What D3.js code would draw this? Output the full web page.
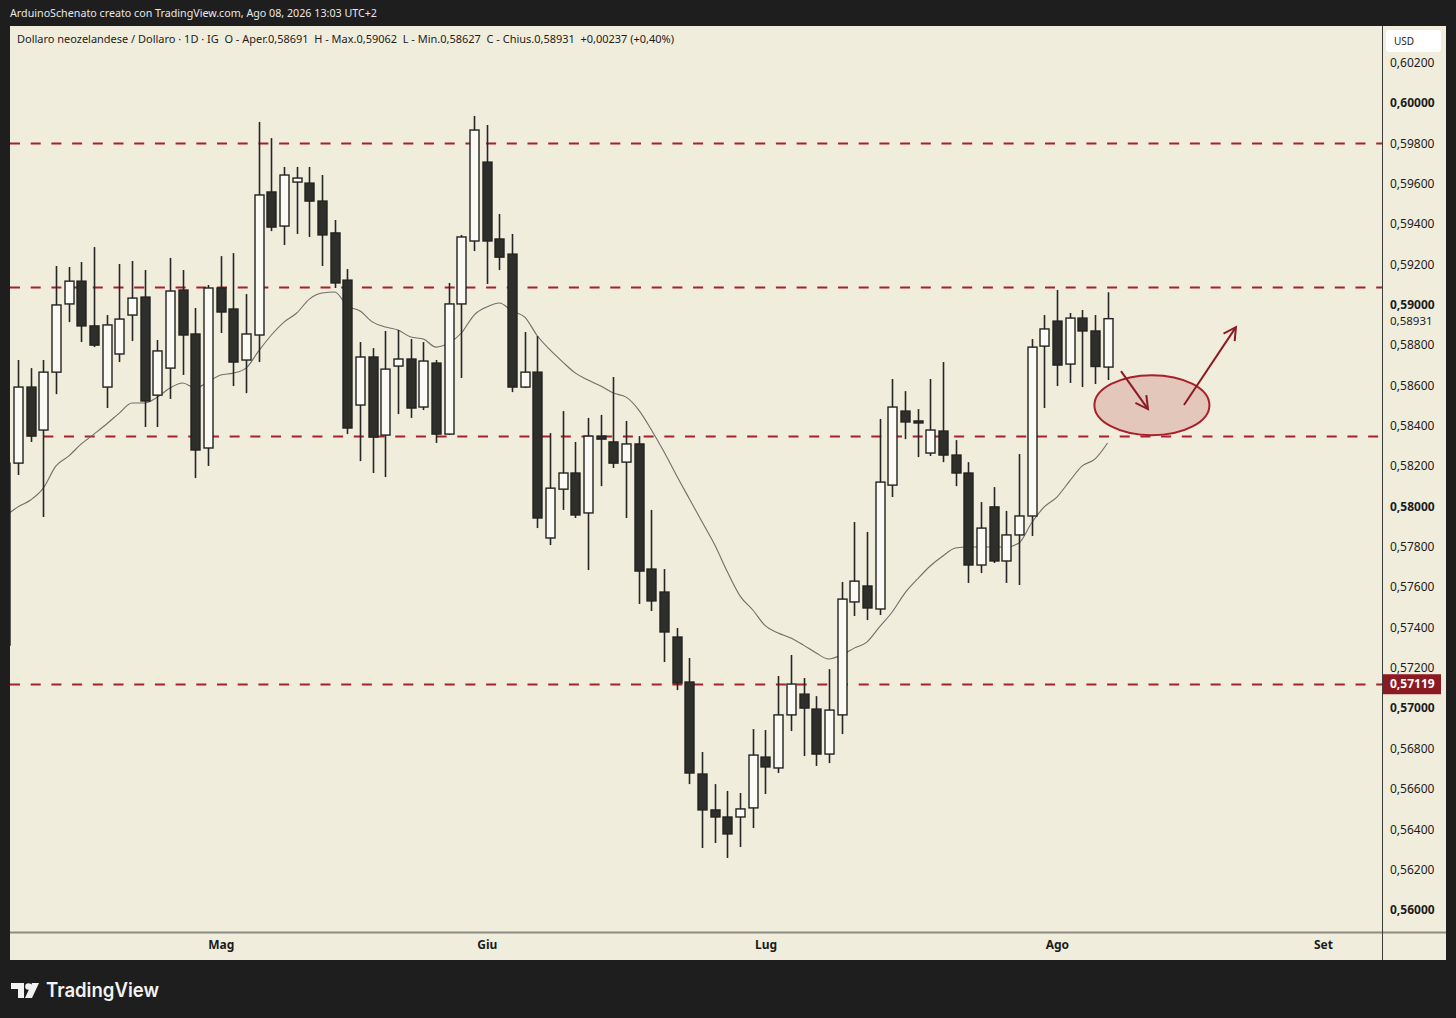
<!DOCTYPE html>
<html>
<head>
<meta charset="utf-8">
<script src="https://cdn.jsdelivr.net/npm/d3@7/dist/d3.min.js"></script>
<style>
  html, body { margin: 0; padding: 0; background: #1e1e1e; }
  svg { display: block; }
</style>
</head>
<body>
<div id="chart"></div>
<script>
// NZD/USD daily candles, first one (index -1) is cut by the left edge
var firstIdx = -1;
var opens  = [0.57313,0.58215,0.58592,0.58379,0.58666,0.59004,0.59117,0.58895,0.58592,0.58756,0.58949,
              0.59038,0.58552,0.58686,0.59073,0.58855,0.58290,0.59083,0.58979,0.58726,0.58850,
              0.59559,0.59390,0.59608,0.59603,0.59514,0.59356,0.59122,0.58503,0.58741,0.58354,
              0.58696,0.58731,0.58493,0.58711,0.58359,0.59004,0.59316,0.59707,0.59326,0.59251,
              0.58592,0.58666,0.57844,0.58086,0.58166,0.57968,0.58349,0.58320,0.58220,0.58310,
              0.57690,0.57576,0.57353,0.57130,0.56674,0.56496,0.56461,0.56461,0.56506,0.56758,
              0.56704,0.56967,0.57070,0.56996,0.56773,0.56967,0.57527,0.57606,0.57492,0.58106,
              0.58473,0.58424,0.58265,0.58374,0.58255,0.58166,0.57710,0.57998,0.57730,0.57859,
              0.57953,0.58795,0.58919,0.58706,0.58934,0.58870,0.58691];
var highs  = [0.58230,0.58726,0.58686,0.58726,0.59192,0.59187,0.59212,0.59286,0.58949,0.59202,0.59217,
              0.59172,0.58825,0.59232,0.59172,0.58984,0.59098,0.59241,0.59256,0.59053,0.59906,
              0.59826,0.59683,0.59683,0.59683,0.59643,0.59420,0.59177,0.58815,0.58785,0.58870,
              0.58875,0.58830,0.58815,0.58726,0.59108,0.59346,0.59936,0.59891,0.59450,0.59351,
              0.58865,0.58845,0.58364,0.58473,0.58320,0.58439,0.58454,0.58642,0.58424,0.58349,
              0.57983,0.57690,0.57398,0.57249,0.56783,0.56624,0.56590,0.56580,0.56897,0.56892,
              0.57160,0.57264,0.57150,0.57060,0.57194,0.57626,0.57923,0.57874,0.58434,0.58632,
              0.58572,0.58483,0.58632,0.58716,0.58329,0.58220,0.58022,0.58096,0.57978,0.58260,
              0.58830,0.58949,0.59073,0.58959,0.58974,0.58949,0.59062];
var lows   = [0.57289,0.58156,0.58320,0.57948,0.58557,0.58914,0.58815,0.58790,0.58488,0.58716,0.58820,
              0.58394,0.58394,0.58533,0.58652,0.58141,0.58201,0.58860,0.58597,0.58562,0.58716,
              0.59365,0.59296,0.59351,0.59336,0.59192,0.59083,0.58359,0.58225,0.58166,0.58146,
              0.58458,0.58439,0.58478,0.58315,0.58354,0.58637,0.59266,0.59103,0.59172,0.58567,
              0.58587,0.57893,0.57809,0.57983,0.57943,0.57685,0.58101,0.58191,0.57943,0.57517,
              0.57482,0.57229,0.57090,0.56624,0.56307,0.56332,0.56258,0.56312,0.56406,0.56575,
              0.56679,0.56887,0.56763,0.56714,0.56728,0.56872,0.57457,0.57437,0.57462,0.58047,
              0.58334,0.58245,0.58250,0.58220,0.58101,0.57621,0.57670,0.57720,0.57621,0.57611,
              0.57854,0.58488,0.58597,0.58612,0.58592,0.58607,0.58627];
var closes = [0.58215,0.58592,0.58349,0.58666,0.58999,0.59117,0.58895,0.58800,0.58900,0.58929,0.59033,
              0.58523,0.58771,0.59068,0.58850,0.58280,0.59083,0.58964,0.58716,0.58855,0.59544,
              0.59385,0.59643,0.59628,0.59514,0.59346,0.59108,0.58389,0.58741,0.58344,0.58681,
              0.58731,0.58488,0.58721,0.58359,0.59004,0.59336,0.59866,0.59316,0.59236,0.58592,
              0.58666,0.57943,0.58091,0.58166,0.57958,0.58349,0.58334,0.58215,0.58310,0.57680,
              0.57532,0.57378,0.57125,0.56679,0.56496,0.56461,0.56377,0.56501,0.56768,0.56709,
              0.56967,0.57120,0.57001,0.56773,0.56991,0.57541,0.57630,0.57497,0.58121,0.58493,
              0.58419,0.58414,0.58379,0.58255,0.58166,0.57710,0.57893,0.57730,0.57859,0.57953,
              0.58790,0.58880,0.58701,0.58934,0.58870,0.58694,0.58931];
// moving average as drawn on the chart
var ma20   = [0.57953,0.57998,0.58032,0.58091,0.58201,0.58250,0.58310,0.58359,0.58409,0.58463,0.58513,
              0.58513,0.58542,0.58587,0.58612,0.58587,0.58617,0.58652,0.58661,0.58686,0.58771,
              0.58850,0.58914,0.58959,0.59028,0.59058,0.59063,0.58994,0.58969,0.58914,0.58890,
              0.58875,0.58840,0.58830,0.58790,0.58810,0.58860,0.58949,0.58989,0.59009,0.58969,
              0.58939,0.58845,0.58776,0.58716,0.58661,0.58627,0.58597,0.58562,0.58542,0.58478,
              0.58379,0.58270,0.58151,0.58037,0.57923,0.57809,0.57675,0.57556,0.57487,0.57408,
              0.57373,0.57348,0.57313,0.57274,0.57244,0.57264,0.57298,0.57328,0.57403,0.57477,
              0.57571,0.57641,0.57705,0.57755,0.57794,0.57799,0.57799,0.57799,0.57799,0.57819,
              0.57918,0.57998,0.58047,0.58126,0.58201,0.58235,0.58315];

var monthLabels = ["Mag", "Giu", "Lug", "Ago", "Set"];
var monthIdx    = [16, 37, 59, 82, 103];

var levelPrices = [0.5980, 0.5909, 0.5835, 0.57119];
var levelStart  = [-1, -1, 2, -1];

var lastClose = 0.58931;
var levelTag  = 0.57119;

var W = 1456, H = 1018;
var plot = {left: 10, right: 1382, top: 26, bottom: 932};
var axisRight = 1446, timeBottom = 960;
var cream = "#f0eddd";
var font = "'Noto Sans', 'Open Sans', sans-serif";

var svg = d3.select("#chart").append("svg")
    .attr("width", W)
    .attr("height", H);

svg.append("rect").attr("width", W).attr("height", H).attr("fill", "#1e1e1e");
svg.append("rect")
    .attr("x", plot.left).attr("y", plot.top)
    .attr("width", axisRight - plot.left).attr("height", timeBottom - plot.top)
    .attr("fill", cream);

var x = d3.scaleLinear().domain([-0.63, 107.66]).range([plot.left, plot.right]);
var y = d3.scaleLinear().domain([0.56, 0.60]).range([910, 103]);

svg.append("clipPath").attr("id", "clip")
  .append("rect")
    .attr("x", plot.left).attr("y", plot.top)
    .attr("width", plot.right - plot.left).attr("height", plot.bottom - plot.top);

var g = svg.append("g").attr("clip-path", "url(#clip)");

// horizontal levels
g.selectAll(".level")
    .data(levelPrices)
    .enter()
    .append("line")
    .attr("x1", function(d, i) { return levelStart[i] < 0 ? plot.left : x(levelStart[i]); })
    .attr("x2", plot.right)
    .attr("y1", function(d) { return Math.round(y(d)) + 0.5; })
    .attr("y2", function(d) { return Math.round(y(d)) + 0.5; })
    .attr("stroke", "#a8202c")
    .attr("stroke-width", 2)
    .attr("stroke-dasharray", "10,10.7");

// moving average
var maLine = d3.line()
    .x(function(d, i) { return x(i + firstIdx); })
    .y(function(d) { return y(d); })
    .curve(d3.curveMonotoneX);

g.append("path")
    .datum(ma20)
    .attr("d", maLine)
    .attr("fill", "none")
    .attr("stroke", "#6f6f68")
    .attr("stroke-width", 1.1);

// candles
var bars = d3.range(opens.length).map(function(i) {
    return {i: i + firstIdx, o: opens[i], h: highs[i], l: lows[i], c: closes[i]};
});
var bodyW = 9;

var cg = g.selectAll(".candle")
    .data(bars)
    .enter()
    .append("g");

cg.append("line")
    .attr("x1", function(d) { return Math.round(x(d.i)) + 0.5; })
    .attr("x2", function(d) { return Math.round(x(d.i)) + 0.5; })
    .attr("y1", function(d) { return y(d.h); })
    .attr("y2", function(d) { return y(d.l); })
    .attr("stroke", "#262624")
    .attr("stroke-width", 1.6);

cg.append("rect")
    .attr("x", function(d) { return Math.round(x(d.i)) + 0.5 - bodyW / 2; })
    .attr("y", function(d) { return y(Math.max(d.o, d.c)); })
    .attr("width", bodyW)
    .attr("height", function(d) { return Math.max(1.5, Math.abs(y(d.o) - y(d.c))); })
    .attr("fill", function(d) { return d.c >= d.o ? "#fbfaf4" : "#2e2e2b"; })
    .attr("stroke", "#222220")
    .attr("stroke-width", 1.4);

// drawing: zone + arrows
var zone = {i: 89.5, p: 0.58502, ri: 4.54, rp: 0.00149};
g.append("ellipse")
    .attr("cx", x(zone.i))
    .attr("cy", y(zone.p))
    .attr("rx", x(zone.i + zone.ri) - x(zone.i))
    .attr("ry", y(zone.p - zone.rp) - y(zone.p))
    .attr("fill", "rgba(170,50,50,0.2)")
    .attr("stroke", "#a8202c")
    .attr("stroke-width", 2);

var arrows = [
    {i1: 87.06, p1: 0.58671, i2: 89.19, p2: 0.58483},
    {i1: 92.03, p1: 0.58503, i2: 96.13, p2: 0.58889}
];
arrows.forEach(function(a) {
    var x1 = x(a.i1), y1 = y(a.p1), x2 = x(a.i2), y2 = y(a.p2);
    var ang = Math.atan2(y2 - y1, x2 - x1), hl = 14, spread = 0.5;
    g.append("line")
        .attr("x1", x1).attr("y1", y1).attr("x2", x2).attr("y2", y2)
        .attr("stroke", "#8c1a24").attr("stroke-width", 2);
    g.append("path")
        .attr("d", "M" + (x2 - hl * Math.cos(ang - spread)) + "," + (y2 - hl * Math.sin(ang - spread)) +
                   "L" + x2 + "," + y2 +
                   "L" + (x2 - hl * Math.cos(ang + spread)) + "," + (y2 - hl * Math.sin(ang + spread)))
        .attr("fill", "none")
        .attr("stroke", "#8c1a24")
        .attr("stroke-width", 2);
});

// price axis
var fmt = function(v) { return d3.format(".5f")(v).replace(".", ","); };
var ticks = d3.range(0.560, 0.6021, 0.002);

svg.selectAll(".ptick")
    .data(ticks)
    .enter()
    .append("text")
    .attr("x", 1390)
    .attr("y", function(d) { return y(d); })
    .attr("dy", "0.35em")
    .attr("font-family", font)
    .attr("font-size", "12px")
    .attr("font-weight", function(d) { return Math.abs(Math.round(d * 100) - d * 100) < 1e-6 ? 700 : 400; })
    .attr("fill", "#1c1c1c")
    .text(fmt);

// last price label, nudged a little below its level as on the original
svg.append("text")
    .attr("x", 1390).attr("y", y(lastClose) + 2.5).attr("dy", "0.35em")
    .attr("font-family", font).attr("font-size", "11.5px").attr("fill", "#1c1c1c")
    .text(fmt(lastClose));

svg.append("rect")
    .attr("x", 1383).attr("y", y(levelTag) - 10)
    .attr("width", 58).attr("height", 20)
    .attr("fill", "#8c1a22");
svg.append("text")
    .attr("x", 1390).attr("y", y(levelTag)).attr("dy", "0.35em")
    .attr("font-family", font).attr("font-size", "12px").attr("font-weight", 700)
    .attr("fill", "#ffffff")
    .text(fmt(levelTag));

svg.append("rect")
    .attr("x", 1386).attr("y", 30).attr("width", 55).attr("height", 22).attr("rx", 3)
    .attr("fill", "#ffffff");
svg.append("text")
    .attr("x", 1394).attr("y", 41).attr("dy", "0.35em")
    .attr("font-family", font).attr("font-size", "10px").attr("fill", "#1c1c1c")
    .text("USD");

// time axis
var xAxis = d3.axisBottom(x)
    .tickValues(monthIdx)
    .tickSize(0)
    .tickPadding(8)
    .tickFormat(function(d, i) { return monthLabels[i]; });

var xa = svg.append("g")
    .attr("transform", "translate(0," + plot.bottom + ")")
    .call(xAxis);
xa.select(".domain").remove();
xa.selectAll("text")
    .attr("font-family", font)
    .attr("font-size", "12px")
    .attr("font-weight", 700)
    .attr("fill", "#1c1c1c");

// separators
svg.append("line")
    .attr("x1", plot.left).attr("x2", axisRight)
    .attr("y1", plot.bottom + 0.5).attr("y2", plot.bottom + 0.5)
    .attr("stroke", "#8d8c82").attr("stroke-width", 2);
svg.append("line")
    .attr("x1", plot.right + 0.5).attr("x2", plot.right + 0.5)
    .attr("y1", plot.top).attr("y2", timeBottom)
    .attr("stroke", "#3a3a36").attr("stroke-width", 1);

// header and legend
svg.append("text")
    .attr("x", 10).attr("y", 17)
    .attr("font-family", font).attr("font-size", "11.5px").attr("fill", "#e8e8e8")
    .attr("textLength", 367).attr("lengthAdjust", "spacingAndGlyphs")
    .text("ArduinoSchenato creato con TradingView.com, Ago 08, 2026 13:03 UTC+2");

svg.append("text")
    .attr("x", 17).attr("y", 43)
    .attr("xml:space", "preserve")
    .attr("font-family", font).attr("font-size", "11px").attr("fill", "#1c1c1c")
    .attr("textLength", 657).attr("lengthAdjust", "spacingAndGlyphs")
    .text("Dollaro neozelandese / Dollaro \u00b7 1D \u00b7 IG  O - Aper.0,58691  H - Max.0,59062  L - Min.0,58627  C - Chius.0,58931  +0,00237 (+0,40%)");

// footer logo
var logo = svg.append("g").attr("fill", "#f2f2f2");
logo.append("path").attr("d", "M11,983 H24 V998 H18 V989 H11 Z");
logo.append("circle").attr("cx", 28.5).attr("cy", 986.5).attr("r", 3.3);
logo.append("path").attr("d", "M32,983 H39 L32,998 H25 Z");
svg.append("text")
    .attr("x", 46).attr("y", 997)
    .attr("font-family", "Inter, 'Open Sans', sans-serif").attr("font-size", "19.5px").attr("font-weight", 600)
    .attr("fill", "#f2f2f2")
    .attr("textLength", 113).attr("lengthAdjust", "spacingAndGlyphs")
    .text("TradingView");
</script>
</body>
</html>
